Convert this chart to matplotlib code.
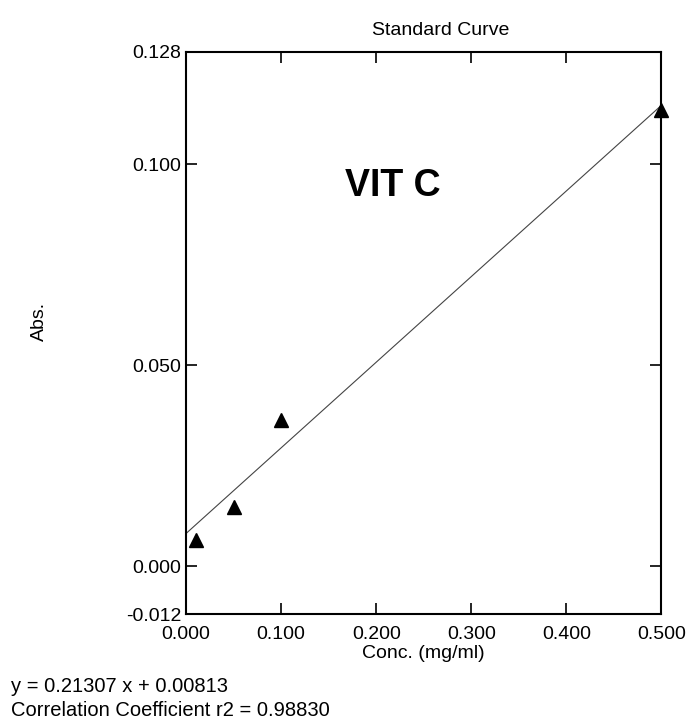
import matplotlib
matplotlib.use('Agg')
import matplotlib.pyplot as plt
import numpy as np

plt.rcParams['font.family'] = ['Liberation Sans', 'DejaVu Sans']

# standards
conc = [0.01, 0.05, 0.10, 0.50]
absorb = [0.0064, 0.0148, 0.0363, 0.1136]

slope = 0.21307
intercept = 0.00813
r2 = 0.98830

x_ticks = [0.0, 0.1, 0.2, 0.3, 0.4, 0.5]
x_labels = ['0.000', '0.100', '0.200', '0.300', '0.400', '0.500']
y_ticks = [-0.012, 0.0, 0.05, 0.10, 0.128]
y_labels = ['-0.012', '0.000', '0.050', '0.100', '0.128']

fig = plt.figure(figsize=(6.89, 7.28), dpi=100)
ax = fig.add_axes([0.27, 0.156, 0.69, 0.773])

xf = np.array([0.0, 0.5])
ax.plot(xf, slope * xf + intercept, color='#444444', lw=0.8)
ax.plot(conc, absorb, linestyle='none', marker='^', color='black', markersize=10,
        clip_on=False)

ax.set_xlim(0, 0.5)
ax.set_ylim(-0.012, 0.128)
ax.set_xticks(x_ticks)
ax.set_xticklabels(x_labels)
ax.set_yticks(y_ticks)
ax.set_yticklabels(y_labels)
ax.tick_params(direction='in', length=8, width=1.2, labelsize=14,
               top=True, right=True, color='black')
ax.tick_params(axis='x', pad=8)
for s in ax.spines.values():
    s.set_linewidth(1.5)

ax.set_xlabel('Conc. (mg/ml)', fontsize=14, labelpad=2)
ax.set_ylabel('Abs.', fontsize=14)
ax.yaxis.set_label_coords(-0.29, 0.52)

fig.text(0.64, 0.958, 'Standard Curve', fontsize=14, ha='center', va='center')
fig.text(0.57, 0.745, 'VIT C', fontsize=27, fontweight='bold', ha='center', va='center')

fig.text(0.016, 0.057, 'y = {:.5f} x + {:.5f}'.format(slope, intercept), fontsize=14.5, va='center')
fig.text(0.016, 0.024, 'Correlation Coefficient r2 = {:.5f}'.format(r2), fontsize=14.5, va='center')

fig.savefig('out.png', dpi=100, facecolor='white')
